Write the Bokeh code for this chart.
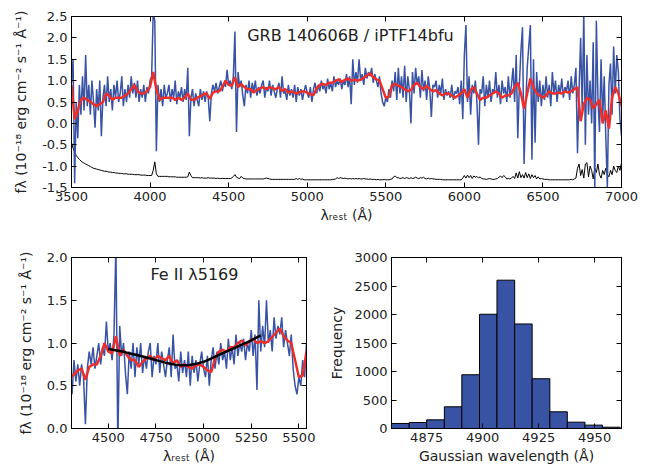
import numpy as np
from bokeh.plotting import figure
from bokeh.layouts import column, row
from bokeh.models import (FixedTicker, NumeralTickFormatter, LinearAxis, Label,
                          Range1d, ColumnDataSource, CustomJSTickFormatter)
from bokeh.embed import file_html
from bokeh.resources import INLINE

# ---------------- data ----------------
# observed spectrum, 10 A grid from 3500 to 7000
flux = [
    0.95, 1.5, -1.4, 0.5, -0.35, 0.9, 0.2, 1.1, 0.3, 1.6, 0.4,
    0.9, 0.2, 1.0, 0.5, -0.1, 0.8, 0.3, 1.0, -0.3, 0.6,
    0.9, 0.4, 1.1, 0.5, 0.8, 0.3, 0.9, 0.6, 1.0, 0.5,
    0.7, 1.1, 0.4, 0.8, 0.5, 0.9, 0.6, 1.1, 0.7, 0.95,
    0.6, 1.0, 0.5, 0.8, 0.6, 0.9, 0.5, 0.85, 0.7, 1.0,
    1.1, 2.6, 2.4, -0.65, 0.9, 0.5, 0.8, 0.4, 0.9, 0.6,
    0.7, 0.9, 0.5, 0.8, 0.6, 1.0, 0.45, 0.75, 0.6, 0.85,
    0.5, 0.8, 0.55, 1.3, -0.3, 0.6, 0.8, 0.4, 0.7, 0.55,
    0.4, 0.8, 0.55, 0.75, 0.5, 0.75, 0.6, 0.05, 0.7, 0.9,
    0.75, 0.95, 0.7, 0.85, 1.0, 0.75, 0.95, 0.85, 1.25, 0.9,
    1.0, 0.8, 1.1, 2.15, -0.2, 1.2, 0.85, 1.0, 0.65, 0.4,
    0.9, 0.7, 1.0, 0.6, 0.95, 0.75, 1.0, 0.65, 0.85, 0.7,
    0.9, 1.0, 0.6, 0.85, 0.75, 1.0, 0.65, 0.9, 0.75, 0.6,
    0.8, 0.95, 0.6, 1.1, 0.7, 0.75, 0.55, 0.9, 0.65, 0.8,
    0.6, 0.9, 0.5, 0.85, 0.65, 0.8, 0.55, 0.75, 0.9, 0.7,
    0.6, 0.85, 0.5, 0.8, 0.95, 0.7, 0.9, 0.75, 1.0, 0.8,
    0.9, 0.7, 1.05, 0.8, 0.95, 0.75, 1.1, 0.85, 1.0, 0.9,
    1.05, 0.8, 1.0, 0.9, 1.15, 0.85, 1.1, 0.45, 1.5, 0.9,
    1.2, 0.95, 1.5, 1.0, 1.15, 0.9, 1.3, 1.05, 1.2, 1.1,
    1.3, 0.95, 1.15, 1.0, 0.85, 1.1, 0.7, 0.5, 0.4, 0.6,
    0.5, 0.8, 0.6, 1.0, 0.75, 1.2, 0.55, 1.3, 0.7, 1.1,
    0.6, 1.35, 0.5, 1.1, 0.8, 0.0, 1.2, 0.7, 1.3, 0.9,
    1.1, 0.6, 1.25, 0.75, 1.0, 0.55, 1.1, 0.8, 0.15, 0.9,
    0.85, 1.0, 0.6, 0.9, 0.7, 1.05, 0.55, 0.8, 0.65, 0.75,
    0.6, 0.9, 0.55, 0.75, 0.7, 0.85, 0.45, 1.0, 0.1, 1.6,
    2.3, 0.5, 1.1, 0.2, 0.9, 0.7, 1.0, 0.5, -0.5, 0.8,
    0.7, 1.1, 0.4, 0.9, 0.6, 1.0, 0.5, 0.8, 0.7, 1.2,
    0.6, 0.9, 0.45, 1.0, 0.7, 0.85, 0.5, 1.1, 0.6, 0.9,
    1.3, 0.5, 1.6, -0.35, 0.9, 1.7, 2.25, -0.95, 0.4, 1.3,
    1.8, 2.3, -0.85, 1.5, -0.45, 1.2, 0.5, 1.0, 0.4, 0.9,
    0.55, 1.1, 0.6, 0.9, 0.4, 1.2, 0.7, 1.0, 0.5, 0.9,
    0.7, 1.05, 0.6, 0.85, 0.75, 1.0, 0.55, 1.1, 0.7, 0.9,
    1.3, -0.7, 0.8, 2.0, 0.3, 2.6, -0.5, 1.6, 0.2, 1.0,
    0.0, 1.9, -1.5, 2.4, 0.6, -0.2, 1.5, 0.1, 1.1, -0.3,
    -1.5, 0.9, 1.4, 0.2, 1.8, 0.7, 1.6, 1.2, 0.1, -0.3,
]

# error spectrum (offset), same 10 A grid
err = [
    -0.45, -0.58, -0.68, -0.75, -0.8, -0.84, -0.88, -0.91, -0.93, -0.95, -0.97,
    -0.99, -1.01, -1.03, -1.05, -1.06, -1.07, -1.08, -1.09, -1.1, -1.11,
    -1.12, -1.12, -1.13, -1.14, -1.14, -1.15, -1.15, -1.16, -1.16, -1.17,
    -1.17, -1.17, -1.18, -1.18, -1.18, -1.19, -1.19, -1.19, -1.19, -1.2,
    -1.2, -1.2, -1.2, -1.21, -1.21, -1.21, -1.21, -1.22, -1.22, -1.22,
    -1.22, -1.1, -0.9, -1.18, -1.24, -1.24, -1.24, -1.24, -1.24, -1.24,
    -1.24, -1.25, -1.25, -1.25, -1.25, -1.25, -1.26, -1.26, -1.26, -1.26,
    -1.26, -1.26, -1.26, -1.25, -1.14, -1.22, -1.27, -1.27, -1.27, -1.27,
    -1.27, -1.28, -1.27, -1.28, -1.28, -1.28, -1.27, -1.28, -1.28, -1.28,
    -1.28, -1.29, -1.28, -1.29, -1.29, -1.29, -1.29, -1.29, -1.29, -1.29,
    -1.29, -1.28, -1.24, -1.2, -1.26, -1.28, -1.29, -1.24, -1.28, -1.29,
    -1.3, -1.3, -1.3, -1.3, -1.3, -1.3, -1.3, -1.3, -1.3, -1.3,
    -1.3, -1.3, -1.29, -1.28, -1.29, -1.3, -1.31, -1.31, -1.31, -1.31,
    -1.31, -1.31, -1.31, -1.31, -1.31, -1.31, -1.31, -1.31, -1.31, -1.31,
    -1.31, -1.31, -1.29, -1.31, -1.29, -1.31, -1.3, -1.32, -1.32, -1.32,
    -1.32, -1.32, -1.32, -1.32, -1.32, -1.32, -1.32, -1.32, -1.32, -1.32,
    -1.32, -1.32, -1.32, -1.32, -1.32, -1.31, -1.31, -1.3, -1.27, -1.29,
    -1.27, -1.28, -1.29, -1.28, -1.29, -1.3, -1.29, -1.3, -1.29, -1.3,
    -1.29, -1.3, -1.29, -1.3, -1.3, -1.29, -1.3, -1.3, -1.31, -1.3,
    -1.31, -1.31, -1.31, -1.32, -1.31, -1.32, -1.32, -1.32, -1.31, -1.32,
    -1.32, -1.32, -1.31, -1.3, -1.25, -1.23, -1.27, -1.27, -1.29, -1.28,
    -1.27, -1.29, -1.27, -1.28, -1.29, -1.27, -1.29, -1.28, -1.26, -1.28,
    -1.29, -1.27, -1.28, -1.26, -1.29, -1.3, -1.28, -1.3, -1.29, -1.3,
    -1.3, -1.31, -1.31, -1.31, -1.31, -1.32, -1.32, -1.32, -1.32, -1.32,
    -1.32, -1.32, -1.32, -1.32, -1.32, -1.32, -1.32, -1.32, -1.28, -1.22,
    -1.28, -1.21, -1.27, -1.22, -1.29, -1.23, -1.26, -1.24, -1.28, -1.25,
    -1.29, -1.3, -1.3, -1.31, -1.3, -1.29, -1.3, -1.31, -1.31, -1.3,
    -1.29, -1.26, -1.23, -1.27, -1.22, -1.25, -1.3, -1.29, -1.3, -1.28,
    -1.24, -1.29, -1.16, -1.28, -1.13, -1.27, -1.2, -1.28, -1.15, -1.27,
    -1.18, -1.29, -1.2, -1.27, -1.22, -1.3, -1.25, -1.3, -1.29, -1.3,
    -1.31, -1.31, -1.31, -1.32, -1.32, -1.32, -1.32, -1.32, -1.32, -1.32,
    -1.32, -1.32, -1.32, -1.32, -1.32, -1.32, -1.32, -1.31, -1.32, -1.3,
    -1.28, -1.05, -0.95, -1.22, -1.08, -1.28, -0.95, -0.92, -1.25, -1.0,
    -1.1, -1.3, -1.05, -1.15, -0.95, -1.2, -1.28, -1.1, -1.2, -1.05,
    -1.2, -1.25, -1.1, -1.2, -1.0, -1.1, -1.15, -1.0, -1.1, -0.92,
]

# smoothed spectrum, 20 A grid from 3500 to 7000
smooth = [
    0.9, 0.1, 0.3, 0.55, 0.6, 0.55, 0.5, 0.45, 0.4, 0.45,
    0.5, 0.7, 0.65, 0.55, 0.6, 0.6, 0.6, 0.65, 0.7, 0.8,
    0.9, 0.75, 0.7, 0.7, 0.75, 0.85, 1.2, 0.8, 0.55, 0.6,
    0.6, 0.6, 0.6, 0.55, 0.6, 0.55, 0.6, 0.7, 0.55, 0.55,
    0.6, 0.63, 0.68, 0.7, 0.57, 0.72, 0.75, 0.75, 0.85, 1.0,
    0.9, 0.88, 1.08, 0.85, 0.92, 0.85, 0.8, 0.8, 0.72, 0.78,
    0.82, 0.85, 0.8, 0.85, 0.82, 0.8, 0.85, 0.76, 0.8, 0.72,
    0.75, 0.72, 0.7, 0.74, 0.75, 0.72, 0.68, 0.66, 0.82, 0.9,
    0.92, 0.9, 0.95, 0.95, 1.0, 1.03, 0.97, 1.02, 1.05, 1.0,
    1.02, 1.0, 1.02, 1.07, 1.12, 1.17, 1.08, 1.03, 1.0, 0.8,
    0.6, 0.62, 0.9, 0.92, 0.88, 0.85, 0.8, 0.75, 0.78, 0.9,
    0.95, 0.85, 0.8, 0.88, 0.8, 0.75, 0.78, 0.7, 0.65, 0.7,
    0.7, 0.65, 0.6, 0.65, 0.7, 0.8, 0.6, 0.78, 0.85, 0.7,
    0.55, 0.6, 0.6, 0.65, 0.7, 0.75, 0.7, 0.6, 0.65, 0.65,
    0.7, 0.85, 0.95, 0.7, 0.35, 0.7, 1.05, 0.85, 0.7, 0.65,
    0.6, 0.65, 0.75, 0.7, 0.7, 0.72, 0.7, 0.75, 0.72, 0.75,
    0.8, 0.85, 0.05, 0.45, 0.6, 0.55, 0.35, 0.45, 0.55, 0.0,
    0.3, -0.12, 0.6, 0.85, 0.7, 0.4,
]

# Fe II line-profile fit
fit_wave = [4500, 4525, 4550, 4575, 4600, 4625, 4650, 4675, 4700, 4725,
            4750, 4775, 4800, 4825, 4850, 4875, 4900, 4925, 4950, 4975,
            5000, 5025, 5050, 5075, 5100, 5125, 5150, 5175, 5200, 5225,
            5250, 5275, 5300]
fit_flux = [0.93, 0.92, 0.91, 0.90, 0.885, 0.872, 0.86, 0.845, 0.83, 0.815,
            0.80, 0.785, 0.77, 0.757, 0.747, 0.741, 0.74, 0.743, 0.752, 0.765,
            0.78, 0.803, 0.83, 0.855, 0.88, 0.905, 0.93, 0.955, 0.98, 1.005,
            1.03, 1.06, 1.09]

# histogram of fitted Gaussian wavelength
hist_edges = [4859.3, 4867.2, 4875.0, 4882.9, 4890.7, 4898.6, 4906.4,
              4914.3, 4922.1, 4930.0, 4937.8, 4945.7, 4953.5, 4961.4]
hist_counts = [88, 105, 152, 381, 943, 2004, 2602, 1834, 873, 293, 111, 59, 23]

top_xticks = [3500, 4000, 4500, 5000, 5500, 6000, 6500, 7000]
top_yticks = [-1.5, -1.0, -0.5, 0.0, 0.5, 1.0, 1.5, 2.0, 2.5]
zoom_xticks = [4500, 4750, 5000, 5250, 5500]
zoom_yticks = [0.0, 0.5, 1.0, 1.5, 2.0]
hist_xticks = [4875, 4900, 4925, 4950]
hist_yticks = [0, 500, 1000, 1500, 2000, 2500, 3000]

assert len(flux) == 351 and len(err) == 351 and len(smooth) == 176

wave = np.arange(3500, 7001, 10)
wave_s = np.arange(3500, 7001, 20)

spec = ColumnDataSource(dict(wave=wave, flux=flux, err=err))
smo = ColumnDataSource(dict(wave=wave_s, flux=smooth))

FONT = "DejaVu Sans"
BLUE = "#3953a4"
RED = "#ec2f2b"
TXT = "#222222"
YLABEL = "fλ (10⁻¹⁸ erg cm⁻² s⁻¹ Å⁻¹)"
XLABEL = "λᵣₑₛₜ (Å)"


def make_fig(w, h, xr, yr, borders):
    l, r, t, b = borders
    p = figure(width=w, height=h, x_range=Range1d(*xr), y_range=Range1d(*yr),
               output_backend="svg", toolbar_location=None,
               min_border_left=l, min_border_right=r,
               min_border_top=t, min_border_bottom=b)
    p.grid.visible = False
    p.outline_line_color = "black"
    p.outline_line_width = 1
    p.outline_line_alpha = 1
    p.background_fill_color = "white"
    p.border_fill_color = "white"
    return p


def style_axes(p, xt, yt, yfmt, xlabel, ylabel, ystand):
    for ax in (p.xaxis[0], p.yaxis[0]):
        ax.major_tick_in = 5
        ax.major_tick_out = 0
        ax.minor_tick_line_color = None
        ax.axis_line_color = "black"
        ax.major_tick_line_color = "black"
        ax.major_label_text_font = FONT
        ax.major_label_text_font_size = "13px"
        ax.major_label_text_color = TXT
        ax.axis_label_text_font = FONT
        ax.axis_label_text_font_size = "14px"
        ax.axis_label_text_font_style = "normal"
        ax.axis_label_text_color = TXT
        ax.major_label_standoff = 4
    p.xaxis[0].ticker = FixedTicker(ticks=xt)
    p.yaxis[0].ticker = FixedTicker(ticks=yt)
    p.yaxis[0].formatter = NumeralTickFormatter(format=yfmt)
    p.xaxis[0].axis_label = xlabel
    p.yaxis[0].axis_label = ylabel
    p.xaxis[0].axis_label_standoff = 3
    p.yaxis[0].axis_label_standoff = ystand
    blank = CustomJSTickFormatter(code="return '';")
    for loc, ticks in (("above", xt), ("right", yt)):
        ax = LinearAxis(ticker=FixedTicker(ticks=ticks), formatter=blank,
                        major_label_text_font_size="0px", major_label_standoff=0,
                        major_tick_in=5, major_tick_out=0,
                        minor_tick_line_color=None, axis_line_color="black")
        p.add_layout(ax, loc)


# ---------------- top panel ----------------
p_top = make_fig(650, 229, (3500, 7000), (-1.5, 2.5), (71, 29, 16, 42))
style_axes(p_top, top_xticks, top_yticks, "0.0", XLABEL, YLABEL, 10)
p_top.line("wave", "err", source=spec, line_color="black", line_width=1)
p_top.line("wave", "flux", source=spec, line_color=BLUE, line_width=1.5)
p_top.line("wave", "flux", source=smo, line_color=RED, line_width=2.5)
p_top.add_layout(Label(x=5275, y=2.06, text="GRB 140606B / iPTF14bfu",
                       text_align="center", text_baseline="middle",
                       text_font=FONT, text_font_size="16px", text_color=TXT))

# ---------------- bottom-left: Fe II zoom ----------------
p_bl = make_fig(326, 239, (4307, 5540), (0, 2), (71, 20, 28, 40))
style_axes(p_bl, zoom_xticks, zoom_yticks, "0.0", XLABEL, YLABEL, 10)
p_bl.line("wave", "flux", source=spec, line_color=BLUE, line_width=1.5)
p_bl.line("wave", "flux", source=smo, line_color=RED, line_width=2.5)
p_bl.line(fit_wave, fit_flux, line_color="black", line_width=2.5)
p_bl.add_layout(Label(x=4952, y=1.8, text="Fe II λ5169",
                      text_align="center", text_baseline="middle",
                      text_font=FONT, text_font_size="16px", text_color=TXT))

# ---------------- bottom-right: histogram ----------------
p_br = make_fig(324, 239, (4859.3, 4962), (0, 3000), (60, 29, 28, 40))
style_axes(p_br, hist_xticks, hist_yticks, "0", "Gaussian wavelength (Å)",
           "Frequency", 6)
p_br.quad(left=hist_edges[:-1], right=hist_edges[1:], bottom=0, top=hist_counts,
          fill_color=BLUE, line_color="black", line_width=1)

layout = column(p_top, row(p_bl, p_br))
open("out.html", "w").write(file_html(layout, INLINE))
